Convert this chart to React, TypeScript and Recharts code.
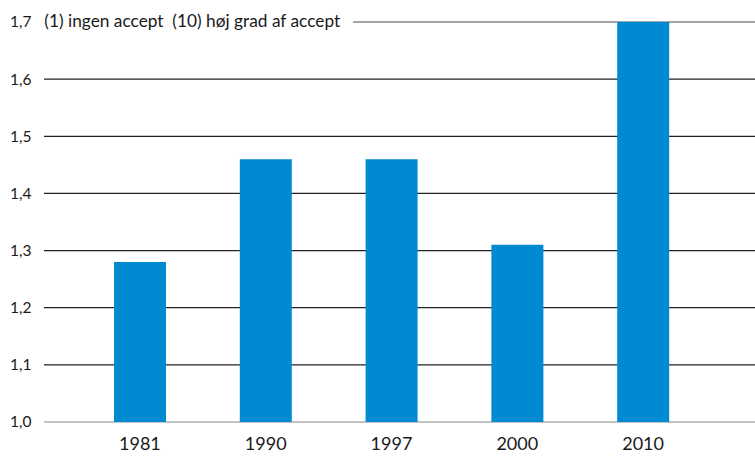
import React from 'react';
import { BarChart, Bar, XAxis, YAxis, CartesianGrid } from 'recharts';

const years = ['1981', '1990', '1997', '2000', '2010'];
const values = [1.28, 1.46, 1.46, 1.31, 1.7];
const yTicks = [1.0, 1.1, 1.2, 1.3, 1.4, 1.5, 1.6, 1.7];
const topLabel = '(1) ingen accept  (10) høj grad af accept';

const data = years.map((y, i) => ({ year: y, value: values[i] }));

const FONT = 'Lato, "Open Sans", sans-serif';

const YTick = (props: any) => {
  const { y, payload } = props;
  const v = payload.value as number;
  const txt = v.toFixed(1).replace('.', ',');
  return (
    <text x={10} y={y} dy="0.35em" fontFamily={FONT} fontSize={15.5} fill="#1a1a1a" textAnchor="start" style={{ whiteSpace: 'pre' }}>
      {txt}
      {v === 1.7 ? <tspan fontSize={17.3} dx={4}>{'  ' + topLabel}</tspan> : null}
    </text>
  );
};

const XTick = (props: any) => {
  const { x, y, payload } = props;
  return (
    <text x={x} y={y} dy="0.71em" fontFamily={FONT} fontSize={18} fill="#1a1a1a" textAnchor="middle">
      {payload.value}
    </text>
  );
};

const gridLine = (props: any) => {
  const { x1, x2, y1, y2, index } = props;
  const isTop = y1 < 30;
  const isBottom = y1 > 415;
  if (isBottom) return <line key={`g${index}`} x1={x1} x2={x2} y1={y1} y2={y2} stroke="#888" strokeWidth={1.2} />;
  if (isTop) return <line key={`g${index}`} x1={353} x2={x2} y1={y1} y2={y2} stroke="#888" strokeWidth={1.5} />;
  return <line key={`g${index}`} x1={x1} x2={x2} y1={y1} y2={y2} stroke="#222" strokeWidth={1.2} />;
};

export default function App() {
  return (
    <div style={{ position: 'absolute', left: 0, top: 0 }}>
      <BarChart width={755} height={457} data={data} margin={{ top: 22, right: 0, bottom: 0, left: 0 }}>
        <CartesianGrid vertical={false} horizontal={gridLine} />
        <XAxis
          dataKey="year"
          axisLine={false}
          tickLine={false}
          height={35}
          padding={{ left: 33, right: 49 }}
          tick={<XTick />}
          tickMargin={9}
          interval={0}
        />
        <YAxis
          domain={[1.0, 1.7]}
          ticks={yTicks}
          width={44}
          axisLine={false}
          tickLine={false}
          tick={<YTick />}
          interval={0}
          allowDataOverflow
        />
        <Bar dataKey="value" fill="#008AD2" barSize={52} isAnimationActive={false} />
      </BarChart>
    </div>
  );
}
